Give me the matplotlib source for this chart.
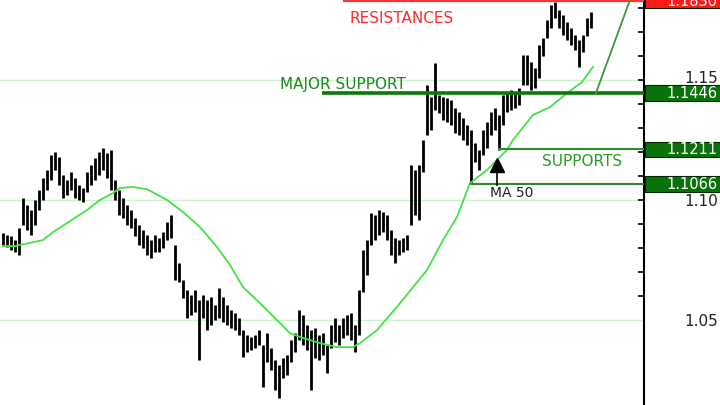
import numpy as np
import matplotlib.pyplot as plt
import matplotlib.transforms as mtransforms
from matplotlib.patches import Rectangle

# -------------------------------------------------
# price bars (high / low)
# -------------------------------------------------
highs = [
    1.0862, 1.0854, 1.0850, 1.0833, 1.0883, 1.1008, 1.0979, 1.0958, 1.1000, 1.1041,
    1.1091, 1.1125, 1.1187, 1.1200, 1.1179, 1.1104, 1.1083, 1.1116, 1.1091, 1.1062,
    1.1050, 1.1116, 1.1145, 1.1175, 1.1200, 1.1216, 1.1195, 1.1208, 1.1083, 1.1041,
    1.1008, 1.0979, 1.0958, 1.0925, 1.0895, 1.0875, 1.0854, 1.0833, 1.0854, 1.0841,
    1.0866, 1.0908, 1.0937, 1.0812, 1.0737, 1.0666, 1.0625, 1.0604, 1.0625, 1.0583,
    1.0604, 1.0583, 1.0595, 1.0562, 1.0633, 1.0595, 1.0562, 1.0541, 1.0529, 1.0508,
    1.0458, 1.0437, 1.0429, 1.0437, 1.0458, 1.0395, 1.0445, 1.0383, 1.0333, 1.0312,
    1.0341, 1.0354, 1.0416, 1.0445, 1.0541, 1.0520, 1.0479, 1.0458, 1.0466, 1.0437,
    1.0445, 1.0395, 1.0479, 1.0508, 1.0479, 1.0508, 1.0520, 1.0529, 1.0479, 1.0625,
    1.0791, 1.0833, 1.0945, 1.0937, 1.0958, 1.0950, 1.0937, 1.0875, 1.0841, 1.0833,
    1.0841, 1.0854, 1.1145, 1.1125, 1.1145, 1.1250, 1.1479, 1.1429, 1.1570, 1.1437,
    1.1429, 1.1425, 1.1416, 1.1383, 1.1366, 1.1341, 1.1312, 1.1291, 1.1237, 1.1208,
    1.1291, 1.1325, 1.1366, 1.1383, 1.1354, 1.1437, 1.1445, 1.1458, 1.1450, 1.1466,
    1.1604, 1.1604, 1.1575, 1.1550, 1.1645, 1.1675, 1.1750, 1.1812, 1.1825, 1.1791,
    1.1770, 1.1741, 1.1716, 1.1687, 1.1666, 1.1687, 1.1758, 1.1783,
]
lows = [
    1.0812, 1.0804, 1.0791, 1.0783, 1.0770, 1.0895, 1.0875, 1.0854, 1.0895, 1.0958,
    1.1000, 1.1041, 1.1083, 1.1125, 1.1062, 1.1008, 1.1020, 1.1041, 1.1008, 1.1000,
    1.0991, 1.1033, 1.1062, 1.1083, 1.1104, 1.1125, 1.1091, 1.1041, 1.1000, 1.0937,
    1.0925, 1.0895, 1.0883, 1.0850, 1.0812, 1.0800, 1.0770, 1.0758, 1.0783, 1.0783,
    1.0800, 1.0833, 1.0841, 1.0666, 1.0658, 1.0591, 1.0508, 1.0520, 1.0533, 1.0333,
    1.0508, 1.0458, 1.0479, 1.0500, 1.0508, 1.0491, 1.0479, 1.0466, 1.0458, 1.0437,
    1.0345, 1.0366, 1.0375, 1.0383, 1.0395, 1.0220, 1.0325, 1.0291, 1.0208, 1.0175,
    1.0258, 1.0270, 1.0325, 1.0366, 1.0416, 1.0395, 1.0375, 1.0208, 1.0341, 1.0333,
    1.0354, 1.0279, 1.0383, 1.0408, 1.0395, 1.0425, 1.0437, 1.0416, 1.0366, 1.0437,
    1.0616, 1.0687, 1.0812, 1.0833, 1.0854, 1.0866, 1.0833, 1.0770, 1.0737, 1.0770,
    1.0783, 1.0791, 1.0895, 1.0937, 1.0916, 1.1116, 1.1270, 1.1291, 1.1375, 1.1362,
    1.1333, 1.1325, 1.1312, 1.1279, 1.1270, 1.1250, 1.1229, 1.1070, 1.1158, 1.1125,
    1.1187, 1.1216, 1.1270, 1.1291, 1.1208, 1.1312, 1.1366, 1.1375, 1.1383, 1.1395,
    1.1479, 1.1479, 1.1458, 1.1466, 1.1508, 1.1600, 1.1675, 1.1716, 1.1758, 1.1716,
    1.1687, 1.1666, 1.1645, 1.1625, 1.1554, 1.1616, 1.1683, 1.1716,
]

# 50-period moving average, sampled along the curve (bar index, price)
ma_idx = [0, 3, 10, 12.5, 16, 21, 24.25, 27.5, 29.25, 32.5, 36, 41, 45, 49.25,
          53.5, 56.75, 60, 64.25, 68.5, 71.75, 75, 79.25, 83.5, 87.5, 89.25,
          93.5, 99.25, 106, 110, 113.5, 116.75, 121, 126, 127.5, 132.5, 136.75,
          141, 144.75, 147.5]
ma_val = [1.0808, 1.0808, 1.0833, 1.0866, 1.0904, 1.0958, 1.1000, 1.1029, 1.1050,
          1.1054, 1.1045, 1.1000, 1.0950, 1.0887, 1.0804, 1.0729, 1.0637, 1.0570,
          1.0500, 1.0445, 1.0425, 1.0404, 1.0387, 1.0387, 1.0404, 1.0458, 1.0570,
          1.0708, 1.0833, 1.0929, 1.1070, 1.1125, 1.1208, 1.1250, 1.1354, 1.1387,
          1.1445, 1.1491, 1.1554]

# key levels and where their lines start (bar index)
res_level = 1.1830
major_level = 1.1446
support_levels = [1.1211, 1.1066]
res_start = 85
major_start = 79.75
support_starts = [123.75, 116.75]

trend_idx = [148.25, 157.5]
trend_val = [1.1446, 1.1868]

grid_levels = [1.05, 1.10, 1.15]
minor_ticks = np.arange(1.06, 1.185, 0.01)

# -------------------------------------------------
# figure
# -------------------------------------------------
fig = plt.figure(figsize=(7.2, 4.05), dpi=100)
ax = fig.add_axes([0, 0, 644 / 720, 1])

x = np.arange(len(highs))
ax.set_xlim(-0.75, 160.25)
ax.set_ylim(1.0146, 1.1833)

for g in grid_levels:
    ax.axhline(g, color="#cdf3cd", lw=1.0, zorder=0)

ax.vlines(x, lows, highs, color="black", lw=2.0, zorder=2)
ax.plot(ma_idx, ma_val, color="#44e244", lw=1.3, zorder=3)

xr = ax.get_xlim()[1]
ax.hlines(res_level, res_start, xr, color="#ff3333", lw=1.6, zorder=3)
ax.hlines(major_level, major_start, xr, color="#0b7a0b", lw=2.6, zorder=3)
ax.hlines(support_levels, support_starts, xr, color="#2e8b2e", lw=1.5, zorder=3)
ax.plot(trend_idx, trend_val, color="#3a9a3a", lw=1.3, zorder=3)

# MA 50 pointer
ax.plot([123.5, 123.5], [1.1154, 1.1063], color="black", lw=1.2, zorder=4)
ax.plot(123.5, 1.1145, marker="^", ms=10, color="black", zorder=4)

ax.text(86.75, 1.1758, "RESISTANCES", color="#ff2a2a", fontsize=11, va="center")
ax.text(69.25, 1.1483, "MAJOR SUPPORT", color="#1a8a1a", fontsize=11, va="center")
ax.text(134.75, 1.1162, "SUPPORTS", color="#2a9a2a", fontsize=11, va="center")
ax.text(121.75, 1.1029, "MA 50", color="#222222", fontsize=10, va="center")

# axis styling: only the right spine with short inward ticks
for side in ["left", "top", "bottom"]:
    ax.spines[side].set_visible(False)
ax.spines["right"].set_linewidth(1.5)
ax.set_xticks([])
ax.yaxis.tick_right()
ax.set_yticks(minor_ticks)
ax.tick_params(axis="y", direction="in", length=4, width=1.2, labelright=False)

# right-hand price labels and level boxes
trans = mtransforms.blended_transform_factory(fig.transFigure, ax.transData)
for g in grid_levels:
    ax.text(0.997, g - 0.0008 if g != 1.15 else g + 0.0008, f"{g:.2f}",
            transform=trans, ha="right", va="center", fontsize=11, color="#222222")

box_h = 0.0064
boxes = [(res_level, "#ff1a1a")] + [(lv, "#0a720a") for lv in [major_level] + support_levels]
for lv, col in boxes:
    ax.add_patch(Rectangle((645 / 720, lv - box_h / 2), 1 - 645 / 720, box_h,
                           transform=trans, facecolor=col, edgecolor="#002800",
                           lw=0.8, clip_on=False, zorder=5))
    ax.text(0.997, lv - 0.0002, f"{lv:.4f}", transform=trans, ha="right", va="center",
            fontsize=10.5, color="white", zorder=6, clip_on=False)

fig.savefig("out.png", dpi=100)
